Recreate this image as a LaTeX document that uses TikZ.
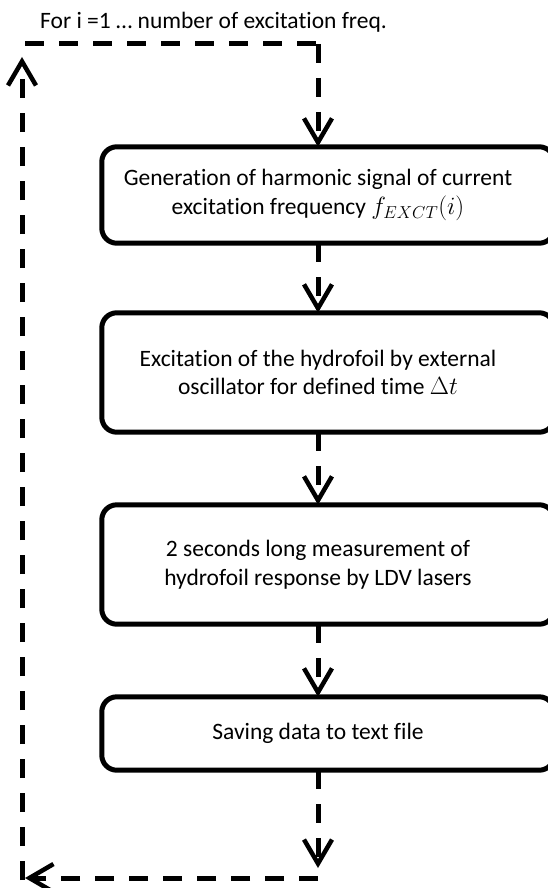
\documentclass[tikz,border=0pt]{standalone}
\usepackage{fontspec}
\setmainfont{Carlito}[Ligatures=NoCommon]
\usepackage{tikz}
\usetikzlibrary{arrows.meta, positioning, calc}

\begin{document}
\begin{tikzpicture}[
    x=1pt, y=-1pt,
    stepbox/.style={rectangle, minimum width=432pt, align=center, inner sep=0pt, font=\fontsize{23.5}{28.5}\selectfont},
    frame/.style={draw=black, line width=5pt, rounded corners=15pt},
    flow/.style={line width=5pt, dash pattern=on 19pt off 15pt, -{Straight Barb[length=24pt, width=28pt, line width=4.5pt]}},
    loopline/.style={line width=5pt, dash pattern=on 19pt off 15pt},
    label/.style={font=\fontsize{23.5}{28.5}\selectfont, anchor=west, inner sep=0pt},
]
\useasboundingbox (0,0) rectangle (548,888);
\clip (0,0) rectangle (548,888);

% Loop label
\node[label] (title) at (40,22) {For i =1 \dots\ number of excitation freq.};

% Steps
\node[stepbox, minimum height=96pt] (gen) at (318,195) {Generation of harmonic signal of current\\excitation frequency $f_{EXCT}(i)$};
\node[stepbox, minimum height=119pt] (exc) at (318,372.5) {Excitation of the hydrofoil by external\\oscillator for defined time $\Delta t$};
\node[stepbox, minimum height=119pt] (meas) at (318,564.5) {2 seconds long measurement of\\hydrofoil response by LDV lasers};
\node[stepbox, minimum height=73pt] (save) at (318,733.5) {Saving data to text file};

% Frames (cut off at the right edge)
\foreach \s in {gen, exc, meas, save}
  \draw[frame] (\s.south west) rectangle ([xshift=20pt]\s.north east);

% Loop corners
\coordinate (lane) at (318,0);
\coordinate (loopbr) at (318,878);
\coordinate (loopbl) at (22,878);
\coordinate (looptl) at (22,44);
\coordinate (looptr) at (318,44);
\coordinate (endtip) at (318,868);

% Arrows between steps
\draw[flow] (gen.south -| lane) -- (exc.north -| lane);
\draw[flow] (exc.south -| lane) -- (meas.north -| lane);
\draw[flow] (meas.south -| lane) -- (save.north -| lane);
\draw[flow] (save.south -| lane) -- (endtip);

% Loop back
\draw[flow] (loopbr) -- ([xshift=3pt]loopbl);
\draw[flow] ([yshift=-2pt]loopbl) -- ([yshift=-13pt]looptl);
\draw[loopline] ([xshift=3pt]looptl) -- (looptr);
\draw[flow] (looptr) -- (gen.north -| lane);

\end{tikzpicture}
\end{document}
